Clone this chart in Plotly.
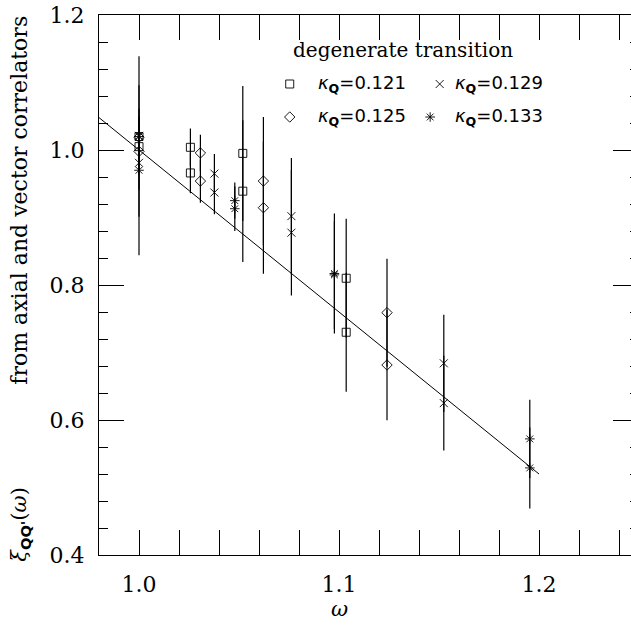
import plotly.graph_objects as go

# Isgur-Wise function xi_QQ'(omega) for four heavy-quark hopping parameters
kappa_labels = ["0.121", "0.125", "0.129", "0.133"]
symbols = ["square-open", "diamond-open", "x-thin-open", "asterisk-open"]
marker_sizes = [8, 8, 8, 8]

omega_121 = [1.0, 1.0, 1.0257, 1.0257, 1.0519, 1.0519, 1.1036, 1.1036]
xi_121 = [1.020, 1.005, 1.004, 0.966, 0.995, 0.939, 0.810, 0.730]
err_121 = [0.030, 0.030, 0.028, 0.030, 0.100, 0.105, 0.088, 0.088]

omega_125 = [1.0, 1.0, 1.0307, 1.0307, 1.0622, 1.0622, 1.124, 1.124]
xi_125 = [1.019, 0.998, 0.9956, 0.954, 0.954, 0.9145, 0.759, 0.6815]
err_125 = [0.030, 0.030, 0.027, 0.032, 0.095, 0.098, 0.080, 0.082]

omega_129 = [1.0, 1.0, 1.0377, 1.0377, 1.0762, 1.0762, 1.1524, 1.1524]
xi_129 = [1.021, 0.981, 0.965, 0.937, 0.902, 0.8775, 0.684, 0.625]
err_129 = [0.040, 0.040, 0.029, 0.032, 0.086, 0.093, 0.072, 0.070]

omega_133 = [1.0, 1.0, 1.0479, 1.0479, 1.0977, 1.0977, 1.1954, 1.1954]
xi_133 = [1.020, 0.970, 0.925, 0.913, 0.817, 0.815, 0.572, 0.529]
err_133 = [0.119, 0.126, 0.027, 0.033, 0.089, 0.080, 0.058, 0.060]

# linear fit
fit_omega = [0.98, 1.20]
fit_xi = [1.048, 0.520]

series = [
    (omega_121, xi_121, err_121),
    (omega_125, xi_125, err_125),
    (omega_129, xi_129, err_129),
    (omega_133, xi_133, err_133),
]

SERIF = "DejaVu Serif"
SANS = "DejaVu Sans"

X_RANGE = [0.98, 1.246]
Y_RANGE = [0.4, 1.2]

# key block: symbol and text positions as fractions of the plot area
key_sym_x = [0.3585, 0.3585, 0.6404, 0.6225]   # 0.121, 0.125, 0.129, 0.133
key_txt_x = [0.4070, 0.4070, 0.6654, 0.6654]
key_row_y = [0.8722, 0.8111, 0.8722, 0.8111]
key_title_pos = (0.3603, 0.935)


def frac_to_data(fx, fy):
    return (X_RANGE[0] + fx * (X_RANGE[1] - X_RANGE[0]),
            Y_RANGE[0] + fy * (Y_RANGE[1] - Y_RANGE[0]))


fig = go.Figure()

fig.add_trace(go.Scatter(
    x=fit_omega, y=fit_xi, mode="lines",
    line=dict(color="black", width=1), showlegend=False, hoverinfo="skip",
))

for i, (om, xi, er) in enumerate(series):
    fig.add_trace(go.Scatter(
        x=om, y=xi, mode="markers",
        name="κQ=" + kappa_labels[i],
        marker=dict(symbol=symbols[i], size=marker_sizes[i], color="black",
                    line=dict(color="black", width=0.9)),
        error_y=dict(type="data", array=er, visible=True, width=0,
                     thickness=1.2, color="black"),
        showlegend=False,
    ))

# key symbols
annotations = []
for i in range(4):
    kx, ky = frac_to_data(key_sym_x[i], key_row_y[i])
    fig.add_trace(go.Scatter(
        x=[kx], y=[ky], mode="markers", showlegend=False, hoverinfo="skip",
        marker=dict(symbol=symbols[i], size=marker_sizes[i], color="black",
                    line=dict(color="black", width=0.9)),
    ))
    annotations.append(dict(
        text="<i>κ</i><sub><b>Q</b></sub>=" + kappa_labels[i],
        xref="paper", yref="paper", x=key_txt_x[i], y=key_row_y[i],
        xanchor="left", yanchor="middle", showarrow=False,
        font=dict(family=SANS, size=18, color="black"),
    ))

annotations += [
    dict(text="degenerate transition", xref="paper", yref="paper",
         x=key_title_pos[0], y=key_title_pos[1], xanchor="left", yanchor="middle",
         showarrow=False, font=dict(family=SERIF, size=20)),
    dict(text="from axial and vector correlators", textangle=-90,
         xref="paper", yref="paper", x=-0.1485, y=0.658,
         xanchor="center", yanchor="middle", showarrow=False,
         font=dict(family=SERIF, size=22)),
    dict(text="<i>ξ</i><sub><b><span style='font-family:DejaVu Sans'>QQ'</span></b></sub>(<i>ω</i>)",
         textangle=-90, xref="paper", yref="paper", x=-0.1485, y=0.058,
         xanchor="center", yanchor="middle", showarrow=False,
         font=dict(family=SERIF, size=21)),
    dict(text="<i>ω</i>", xref="x", yref="paper", x=1.1, y=-0.1,
         xanchor="center", yanchor="middle", showarrow=False,
         font=dict(family=SERIF, size=21)),
]

# right-hand tick marks
fig.add_trace(go.Scatter(x=[], y=[], yaxis="y2", showlegend=False))

fig.update_layout(
    width=631, height=626, autosize=False,
    margin=dict(l=99, r=0, t=15, b=71),
    paper_bgcolor="white", plot_bgcolor="white",
    font=dict(family=SERIF, size=22, color="black"),
    showlegend=False,
    xaxis=dict(
        range=X_RANGE, tick0=1.0, dtick=0.1, tickformat=".1f",
        ticks="inside", ticklen=25, tickwidth=1, tickcolor="black",
        showline=True, linecolor="black", linewidth=1, mirror="allticks",
        showgrid=False, zeroline=False, ticklabelstandoff=10,
        minor=dict(tick0=1.0, dtick=0.02, ticks="inside", ticklen=9,
                   tickcolor="black", showgrid=False),
    ),
    yaxis=dict(
        range=Y_RANGE, tick0=0.4, dtick=0.2, tickformat=".1f",
        ticks="inside", ticklen=25, tickwidth=1, tickcolor="black",
        showline=True, linecolor="black", linewidth=1, mirror=False,
        showgrid=False, zeroline=False, ticklabelstandoff=9,
        minor=dict(tick0=0.4, dtick=0.04, ticks="inside", ticklen=9,
                   tickcolor="black", showgrid=False),
    ),
    yaxis2=dict(
        range=Y_RANGE, tick0=0.4, dtick=0.2, overlaying="y", side="right",
        ticks="inside", ticklen=18, tickwidth=1, tickcolor="black",
        showline=False, showticklabels=False, showgrid=False, zeroline=False,
        minor=dict(tick0=0.4, dtick=0.04, ticks="inside", ticklen=1,
                   tickcolor="black", showgrid=False),
    ),
    annotations=annotations,
)

fig.write_html("out.html")
